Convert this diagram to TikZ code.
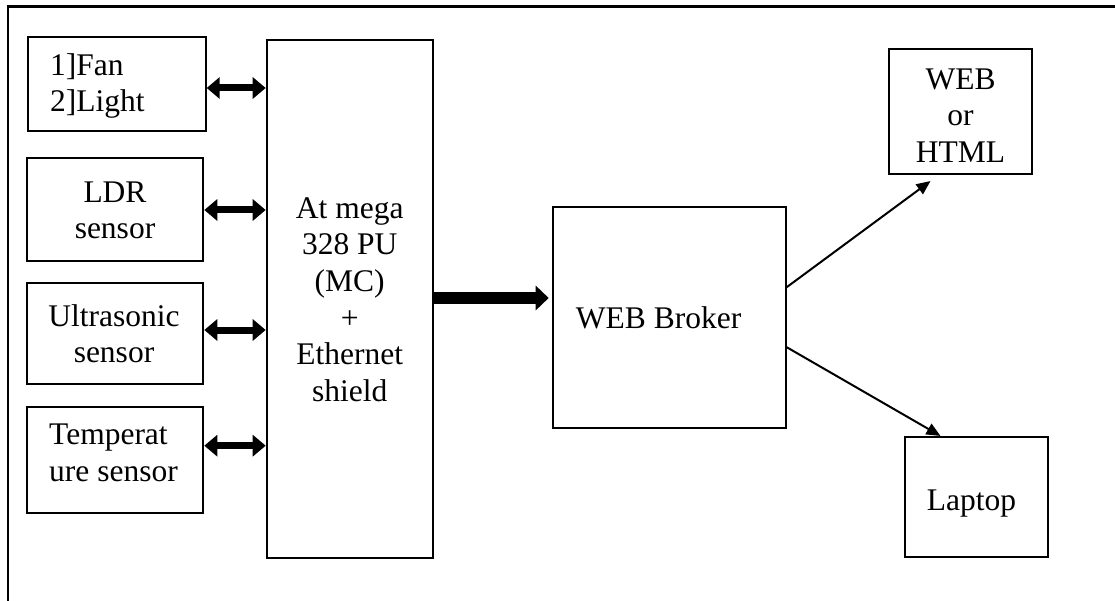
\documentclass[tikz,border=0pt]{standalone}
\usepackage{fontspec}
\setmainfont{Liberation Serif}
\usetikzlibrary{arrows.meta}
\tikzset{
  box/.style={draw, line width=2pt, inner sep=0pt},
  txt/.style={inner sep=0pt, font=\fontsize{31.5}{36.7}\selectfont},
  dbl/.style={line width=7pt, {Triangle[length=13pt,width=21pt]}-{Triangle[length=13pt,width=21pt]}},
  fat/.style={line width=11.7pt, -{Triangle[length=13pt,width=24pt]}},
  thin/.style={line width=2pt, -{Triangle[length=14pt,width=12pt]}},
}
\begin{document}
\begin{tikzpicture}[x=1pt,y=-1pt]
\useasboundingbox (0,0) rectangle (1115,601);
% outer frame (only top and left visible)
\draw[line width=2.5pt] (1115,6.5) -| (8,601);
% boxes
\node[box, minimum width=178pt, minimum height=94pt] (b1) at (116.7,83.7) {};
\node[box, minimum width=176.6pt, minimum height=102.4pt] (b2) at (115,209.5) {};
\node[box, minimum width=176.6pt, minimum height=101.6pt] (b3) at (115,333.5) {};
\node[box, minimum width=176.6pt, minimum height=105.4pt] (b4) at (115,460) {};
\node[box, minimum width=166pt, minimum height=518.3pt] (mc) at (349.7,299.2) {};
\node[box, minimum width=233pt, minimum height=221pt] (broker) at (669.2,317.2) {};
\node[box, minimum width=143pt, minimum height=124.7pt] (web) at (960.5,111.7) {};
\node[box, minimum width=143pt, minimum height=119.7pt] (laptop) at (976.5,496.8) {};
% texts
\node[txt, align=left, anchor=west] (t1) at (50,86) {1]Fan\\2]Light};
\node[txt, align=center] (t2) at (115,210.4) {LDR\\sensor};
\node[txt, align=center] (t3) at (114,333.8) {Ultrasonic\\sensor};
\node[txt, align=left, anchor=west] (t4) at (49,452.5) {Temperat\\ure sensor};
\node[txt, align=center] (tmc) at (349.7,299.7) {At mega\\328 PU\\(MC)\\+\\Ethernet\\shield};
\node[txt, anchor=base west] (tbr) at (575.7,328) {WEB Broker};
\node[txt, align=center] (tweb) at (960.5,115.4) {WEB\\or\\HTML};
\node[txt, anchor=base west] (tlap) at (926.7,510) {Laptop};
% connectors
\draw[dbl] (b1.east |- 0,88) -- (mc.west |- 0,88);
\draw[dbl] (b2.east |- 0,210) -- (mc.west |- 0,210);
\draw[dbl] (b3.east |- 0,330) -- (mc.west |- 0,330);
\draw[dbl] (b4.east |- 0,445.7) -- (mc.west |- 0,445.7);
\draw[fat, shorten >=3pt] (mc.east |- 0,298) -- (broker.west |- 0,298);
\draw[thin] ([yshift=30pt]broker.east) -- ([xshift=-30pt,yshift=-6pt]web.south);
\draw[thin] ([yshift=-30pt]broker.east) -- ([xshift=-36pt]laptop.north);
\end{tikzpicture}
\end{document}
